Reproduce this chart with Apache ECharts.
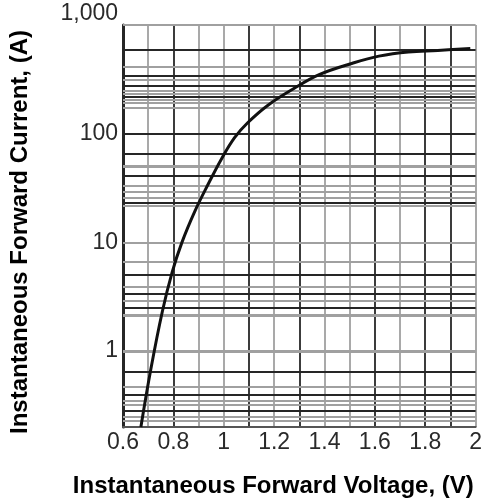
<!DOCTYPE html>
<html>
<head>
<meta charset="utf-8">
<script src="https://cdn.jsdelivr.net/npm/echarts@6/dist/echarts.min.js"></script>
<style>
  html, body { margin: 0; padding: 0; background: #fff; }
  #chart { width: 485px; height: 503px; }
</style>
</head>
<body>
<div id="chart"></div>
<script>
// ---- data ----
const voltage = [0.671, 0.711, 0.756, 0.795, 0.834, 0.886, 0.939, 0.991, 1.043, 1.095, 1.173, 1.277, 1.381, 1.511, 1.616, 1.733, 1.85, 1.979];
const current = [0.2, 0.69, 2.3, 5.3, 10, 19.5, 34.6, 58.6, 92, 126, 181, 259, 351, 445, 517, 565, 583, 608];

// y tick labels shown on the log axis
const yTickLabels = { 1: '1', 10: '10', 100: '100', 1000: '1,000' };
// x tick labels (every 0.2 V)
const xTickLabels = ['0.6', '0.8', '1', '1.2', '1.4', '1.6', '1.8', '2'];

// horizontal grid lines of the (irregular) log paper
const gridLinesDark = [0.28, 0.4, 0.64, 2.5, 3.4, 5, 23, 41, 66, 100, 217, 274, 340, 593];
const gridLinesLight = [0.225, 0.25, 0.32, 0.35, 0.47, 1, 2.15, 2.9, 3.9, 6.6, 10, 21.5, 26, 29.5, 33, 50, 174, 191, 205, 233, 250, 316, 414, 1000];
const gridLinesThick = [1, 2.15, 50];

const DARK = '#262626';
const LIGHT = '#a0a0a0';
// vertical grid line colours, one per 0.1 V from 0.6 to 2.0
const vColors = [DARK, LIGHT, DARK, LIGHT, LIGHT, DARK, LIGHT, DARK, LIGHT, LIGHT, DARK, LIGHT, DARK, DARK, LIGHT];

const chart = echarts.init(document.getElementById('chart'), null, { renderer: 'canvas' });

const markData = [];
gridLinesLight.forEach(v => markData.push({ yAxis: v, lineStyle: { color: LIGHT, width: gridLinesThick.indexOf(v) >= 0 ? 3 : 1.8, type: 'solid' } }));
gridLinesDark.forEach(v => markData.push({ yAxis: v, lineStyle: { color: DARK, width: 1.8, type: 'solid' } }));

const FONT = '"Liberation Sans", Arial, sans-serif';

chart.setOption({
  animation: false,
  backgroundColor: '#ffffff',
  grid: { left: 120, right: 7, top: 25, bottom: 74, containLabel: false },
  xAxis: {
    type: 'value',
    min: 0.6,
    max: 2.0,
    interval: 0.1,
    name: 'Instantaneous Forward Voltage, (V)',
    nameLocation: 'middle',
    nameGap: 47,
    nameTextStyle: { fontFamily: FONT, fontWeight: 'bold', fontSize: 24, color: '#000', padding: [0, 52, 0, 0] },
    axisLine: { show: true, lineStyle: { color: '#555', width: 2 } },
    axisTick: { show: false },
    axisLabel: {
      fontFamily: FONT, fontSize: 23, color: '#2a2a2a', margin: 4, interval: 0, hideOverlap: false,
      formatter: function (v) {
        const k = Math.round((v - 0.6) * 10);
        if (k % 2 !== 0) return '';
        return xTickLabels[k / 2] || '';
      }
    },
    splitLine: { show: true, lineStyle: { color: vColors, width: 1.8 } }
  },
  yAxis: {
    type: 'log',
    logBase: 10,
    min: 0.2,
    max: 1000,
    name: 'Instantaneous Forward Current, (A)',
    nameLocation: 'middle',
    nameGap: 91,
    nameRotate: 90,
    nameTextStyle: { fontFamily: FONT, fontWeight: 'bold', fontSize: 24, color: '#000', padding: [0, 12, 0, 0] },
    axisLine: { show: true, lineStyle: { color: DARK, width: 3 } },
    axisTick: { show: false },
    axisLabel: {
      fontFamily: FONT, fontSize: 23, color: '#2a2a2a', margin: 5,
      verticalAlignMaxLabel: 'bottom',
      formatter: function (v) {
        const r = Math.round(v);
        return (Math.abs(v - r) < 1e-6 && yTickLabels[r]) ? yTickLabels[r] : '';
      }
    },
    splitLine: { show: false }
  },
  series: [{
    type: 'line',
    data: voltage.map((v, i) => [v, current[i]]),
    smooth: 0.4,
    showSymbol: false,
    lineStyle: { color: '#111', width: 3 },
    z: 5,
    markLine: {
      silent: true,
      symbol: ['none', 'none'],
      label: { show: false },
      animation: false,
      z: 1,
      data: markData
    }
  }]
});
</script>
</body>
</html>
